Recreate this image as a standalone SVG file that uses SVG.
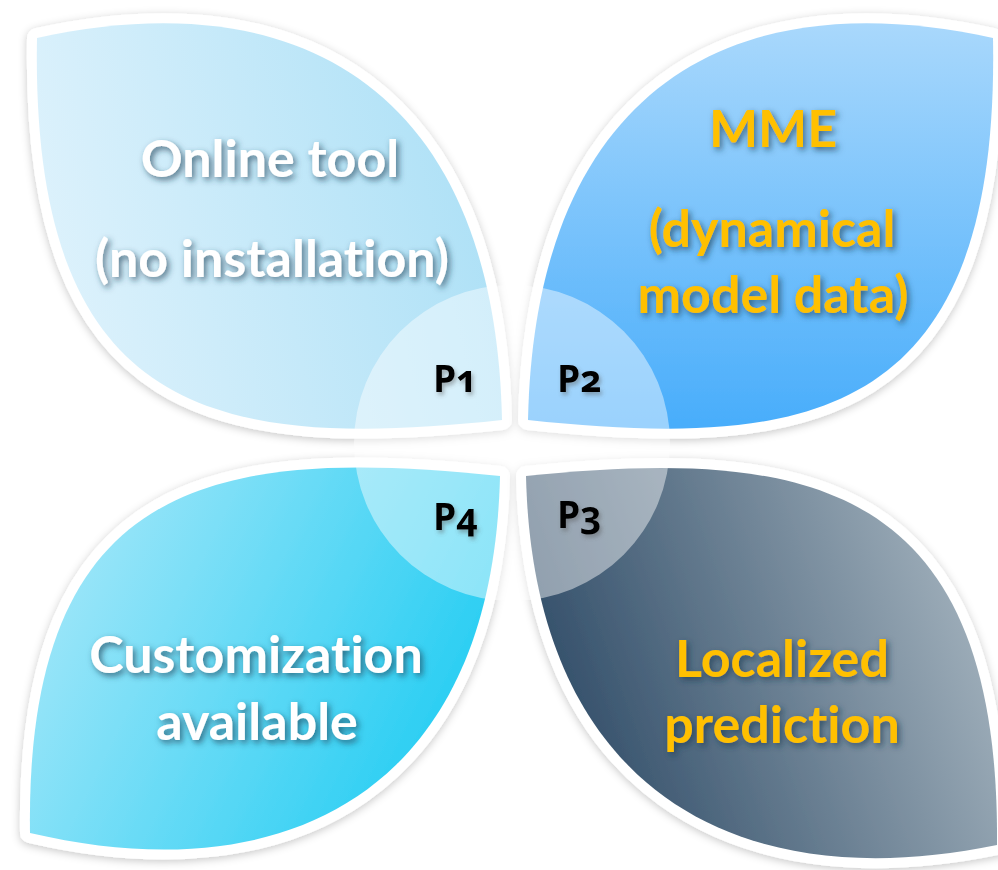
<svg xmlns="http://www.w3.org/2000/svg" width="998" height="870" viewBox="0 0 998 870">
<defs>
<linearGradient id="gTL" x1="0" y1="0.6" x2="1" y2="0.4"><stop offset="0" stop-color="#def2fc"/><stop offset="1" stop-color="#ace0f6"/></linearGradient>
<linearGradient id="gTR" x1="0" y1="0" x2="0" y2="1"><stop offset="0" stop-color="#a9d8fc"/><stop offset="1" stop-color="#48adfb"/></linearGradient>
<linearGradient id="gBL" x1="0" y1="0.3" x2="1" y2="0.7"><stop offset="0" stop-color="#a3e7f9"/><stop offset="1" stop-color="#1bcbf2"/></linearGradient>
<linearGradient id="gBR" x1="0" y1="0.65" x2="1" y2="0.35"><stop offset="0" stop-color="#2a4763"/><stop offset="1" stop-color="#a4b3be"/></linearGradient>
<filter id="leafShadow" x="-10%" y="-10%" width="120%" height="120%"><feDropShadow dx="0" dy="2" stdDeviation="4" flood-color="#000" flood-opacity="0.22"/></filter>
<filter id="txtShadow" x="-10%" y="-20%" width="120%" height="150%"><feDropShadow dx="2.5" dy="3" stdDeviation="3" flood-color="#1d3c52" flood-opacity="0.7"/></filter>
<filter id="pShadow" x="-20%" y="-20%" width="140%" height="150%"><feDropShadow dx="2" dy="3" stdDeviation="2" flood-color="#555" flood-opacity="0.45"/></filter>
</defs>
<style>
.leaf{stroke:#fff;stroke-width:20;stroke-linejoin:round;paint-order:stroke;filter:url(#leafShadow)}
.lbl{font-family:Lato,"Open Sans","Liberation Sans",sans-serif;font-weight:700;font-size:52px;text-anchor:middle;font-variant-ligatures:none;font-feature-settings:"liga" 0,"dlig" 0;filter:url(#txtShadow)}
.w{fill:#fff}
.y{fill:#ffc000}
.p{font-family:"Open Sans","Liberation Sans",sans-serif;font-weight:700;font-size:37px;fill:#000;font-variant-numeric:oldstyle-nums;filter:url(#pShadow)}
</style>
<rect width="998" height="870" fill="#fff"/>
<g id="leaf-tl"><path class="leaf" fill="url(#gTL)" d="M37,38 C300,-20 495,90 502,420 C220,450 30,420 37,38 Z"/></g>
<g id="leaf-tr"><path class="leaf" fill="url(#gTR)" d="M993,38 C730,-20 535,90 528,420 C810,450 1000,420 993,38 Z"/></g>
<g id="leaf-bl"><path class="leaf" fill="url(#gBL)" d="M500,476 C220,447 25,475 30,833 C295,895 493,784 500,476 Z"/></g>
<g id="leaf-br"><path class="leaf" fill="url(#gBR)" d="M526,476 C806,447 1000,480 997,845 C731,900 533,784 526,476 Z"/></g>
<g id="center"><circle cx="512" cy="443" r="158" fill="#fff" fill-opacity="0.45"/></g>
<g id="labels">
<text class="lbl w" x="270" y="177">Online tool</text>
<text class="lbl w" x="272" y="277">(no installation)</text>
<text class="lbl y" x="773" y="147">MME</text>
<text class="lbl y" x="772" y="247">(dynamical</text>
<text class="lbl y" x="773" y="313">model data)</text>
<text class="lbl w" x="256" y="673">Customization</text>
<text class="lbl w" x="257" y="740">available</text>
<text class="lbl y" x="782" y="677">Localized</text>
<text class="lbl y" x="782" y="743">prediction</text>
<text class="p" x="433" y="392">P1</text>
<text class="p" x="557" y="392">P2</text>
<text class="p" x="557" y="528">P3</text>
<text class="p" x="433" y="530">P4</text>
</g>
</svg>
